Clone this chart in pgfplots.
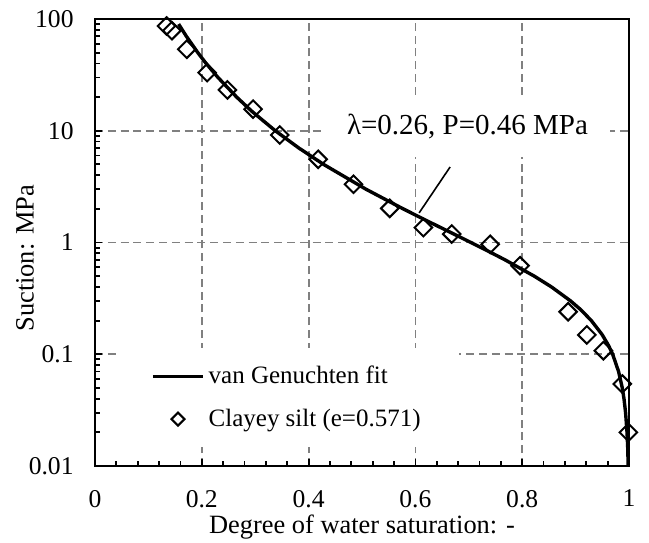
\documentclass[border=0pt]{standalone}
\usepackage{fontspec}
\setmainfont{Liberation Serif}
\usepackage{pgfplots}
\pgfplotsset{compat=1.18}

\begin{document}
\begin{tikzpicture}
\path[use as bounding box] (-47.5bp,-38.5bp) rectangle (277bp,233bp);
\begin{axis}[
  at={(0,0)}, anchor=south west,
  width=267bp, height=223.5bp, scale only axis,
  xmin=0, xmax=1, ymin=0.01, ymax=100,
  ymode=log,
  xtick={0,0.2,...,1},
  minor x tick num=4,
  ytick={0.01,0.1,1,10,100},
  yticklabels={0.01,0.1,1,10,100},
  xtick pos=left, ytick pos=left,
  tick align=inside,
  major tick length=3.5bp, minor tick length=2.7bp,
  every tick/.style={black, line width=0.9bp},
  axis line style={line width=1.2bp},
  grid=major,
  major grid style={gray, line width=0.9bp, dash pattern=on 4bp off 2.4bp},
  /pgf/number format/assume math mode=true,
  tick label style={font=\fontsize{12.8bp}{15bp}\selectfont},
  xticklabel style={yshift=-8.5bp},
  yticklabel style={xshift=-7.2bp},
  xlabel={Degree of water saturation: -},
  ylabel={Suction: MPa},
  label style={font=\fontsize{13.2bp}{16bp}\selectfont},
  xlabel style={at={(axis description cs:0.5,-0.136)}, anchor=center},
  ylabel style={at={(axis description cs:-0.131,0.465)}, anchor=center},
  reverse legend,
  legend cell align=left,
  legend image code/.code={
    \draw[mark repeat=2, mark phase=2, #1, mark size=2.3bp]
      plot coordinates {(0bp,0bp) (12.5bp,0bp) (25bp,0bp)};
  },
  legend style={
    at={(axis description cs:0.041,0.264)}, anchor=north west,
    draw=none, fill=white,
    inner xsep=17bp, inner ysep=7bp,
    row sep=7bp,
    nodes={inner sep=2bp},
    font=\fontsize{12.5bp}{15bp}\selectfont,
  },
]
% measured points
\addplot[only marks, mark=square, mark size=3.1bp,
  mark options={rotate=45, line width=1bp, fill=none, black}]
  coordinates {
    (0.134,86.6) (0.144,78.6) (0.172,53.6) (0.210,33.1) (0.248,23.2)
    (0.296,15.6) (0.346,9.16) (0.418,5.55) (0.484,3.32) (0.552,2.02)
    (0.615,1.36) (0.668,1.19) (0.740,0.964) (0.796,0.62) (0.886,0.240)
    (0.921,0.149) (0.952,0.1076) (0.9875,0.0542) (0.9988,0.020)
  };
\addlegendentry{Clayey silt (e=0.571)}
% fitted curve
\addplot[black, line width=1.7bp, line join=round, no marks]
  coordinates {
    (0.1566,90) (0.1711,70) (0.1925,50) (0.2081,40) (0.2302,30)
    (0.2653,20) (0.2932,15) (0.3376,10) (0.3818,7) (0.428,5)
    (0.5073,3) (0.5771,2) (0.6293,1.5) (0.6705,1.2) (0.704,1)
    (0.7335,0.85) (0.7677,0.7) (0.8226,0.5) (0.8549,0.4) (0.8906,0.3)
    (0.9098,0.25) (0.9295,0.2) (0.9496,0.15) (0.9616,0.12) (0.9694,0.1)
    (0.9805,0.07) (0.9874,0.05) (0.9906,0.04) (0.9936,0.03) (0.9963,0.02)
    (0.9975,0.015) (0.9985,0.01)
  };
\addlegendentry{van Genuchten fit}
\node[fill=white, minimum width=142.5bp, minimum height=30bp, inner sep=0pt,
  font=\fontsize{14.5bp}{17bp}\selectfont]
  at (axis cs:0.6976,10.8) {λ=0.26, P=0.46 MPa};
\draw[black, line width=0.8bp] (axis cs:0.665,4.74) -- (axis cs:0.607,1.84);
\end{axis}
\end{tikzpicture}
\end{document}
